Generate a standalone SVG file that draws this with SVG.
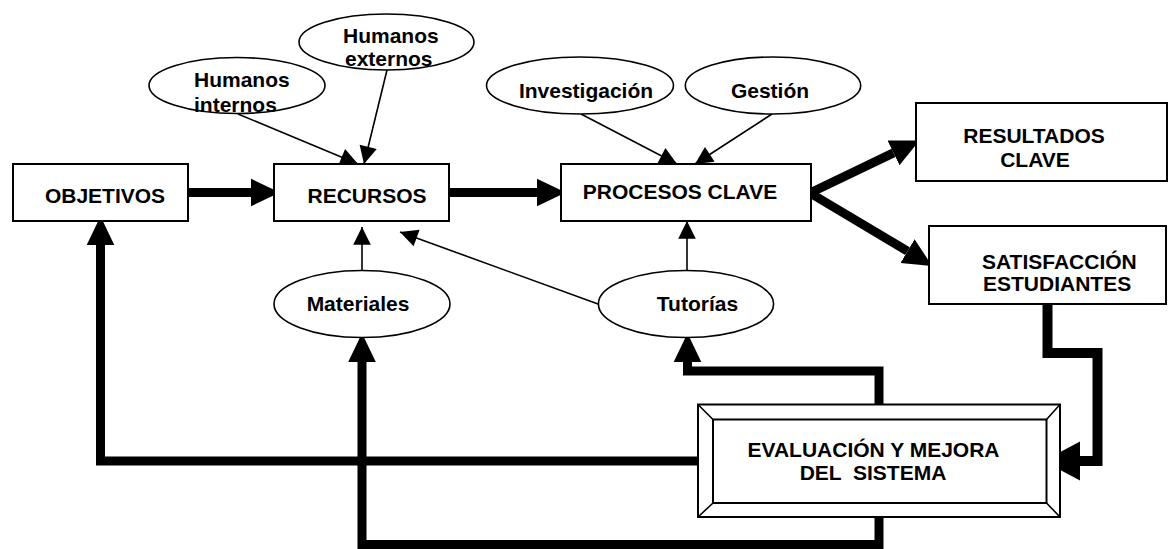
<svg xmlns="http://www.w3.org/2000/svg" width="1168" height="549" viewBox="0 0 1168 549">
<defs>
<style>
.box{fill:#fff;stroke:#000;stroke-width:2}
.ell{fill:#fff;stroke:#000;stroke-width:1.6}
.t{font-family:"Liberation Sans",Arial,sans-serif;font-weight:bold;font-size:21px;fill:#000}
.m{text-anchor:middle}
.thin{fill:none;stroke:#000;stroke-width:1.6}
.thick{fill:none;stroke:#000;stroke-width:9;stroke-linejoin:miter}
.fat{fill:none;stroke:#000;stroke-width:10;stroke-linejoin:miter}
</style>
<marker id="ah" markerUnits="userSpaceOnUse" markerWidth="20" markerHeight="20" viewBox="-16 -8 17 16" refX="0" refY="0" orient="auto">
<path d="M0,0 L-15,-7.5 L-15,7.5 z" fill="#000"/>
</marker>
<marker id="AH" markerUnits="userSpaceOnUse" markerWidth="30" markerHeight="30" viewBox="0 -12 25 24" refX="0" refY="0" orient="auto">
<path d="M0,-11.5 L24,0 L0,11.5 z" fill="#000"/>
</marker>
<marker id="AHB" markerUnits="userSpaceOnUse" markerWidth="40" markerHeight="40" viewBox="0 -18 34 36" refX="0" refY="0" orient="auto">
<path d="M0,-17.5 L33,0 L0,17.5 z" fill="#000"/>
</marker>
</defs>

<g id="connectors">
<!-- thin -->
<path class="thin" d="M238,114 L358,164" marker-end="url(#ah)"/>
<path class="thin" d="M387,70 L364,164" marker-end="url(#ah)"/>
<path class="thin" d="M581,114 L677,164" marker-end="url(#ah)"/>
<path class="thin" d="M772,114 L695,164" marker-end="url(#ah)"/>
<path class="thin" d="M362,271 L362,227" marker-end="url(#ah)"/>
<path class="thin" d="M687,271 L687,221" marker-end="url(#ah)"/>
<path class="thin" d="M598,304 L400,232" marker-end="url(#ah)"/>
<!-- thick -->
<path class="thick" d="M188,192.5 H251" marker-end="url(#AH)"/>
<path class="thick" d="M449,192.5 H537" marker-end="url(#AH)"/>
<path class="thick" d="M810,193 L893.5,152.9" marker-end="url(#AH)"/>
<path class="thick" d="M810,193 L907.5,251.2" marker-end="url(#AH)"/>
<path class="thick" d="M698,461 H100.5 V245" marker-end="url(#AH)"/>
<path class="thick" d="M879,517 V544.5 H362 V362" marker-end="url(#AH)"/>
<path class="thick" d="M879,404 V371 H687.5 V362" marker-end="url(#AH)"/>
<path class="fat" d="M1047.5,304 V353 H1097.5 V461 H1080" marker-end="url(#AHB)"/>
</g>

<g id="objetivos">
<rect class="box" x="13" y="164" width="175" height="57"/>
<text class="t m" x="105" y="203">OBJETIVOS</text>
</g>
<g id="recursos">
<rect class="box" x="274" y="164" width="175" height="57"/>
<text class="t m" x="367" y="203">RECURSOS</text>
</g>
<g id="procesos">
<rect class="box" x="561" y="164" width="250" height="57"/>
<text class="t m" x="680" y="199">PROCESOS CLAVE</text>
</g>
<g id="resultados">
<rect class="box" x="916" y="103" width="251" height="78"/>
<text class="t m" x="1034" y="143">RESULTADOS</text>
<text class="t m" x="1035" y="167">CLAVE</text>
</g>
<g id="satisfaccion">
<rect class="box" x="929" y="226" width="237" height="78"/>
<text class="t" x="982" y="269">SATISFACCIÓN</text>
<text class="t" x="983" y="291">ESTUDIANTES</text>
</g>
<g id="humanos-internos">
<ellipse class="ell" cx="237" cy="85.5" rx="88" ry="28"/>
<text class="t" x="194" y="87">Humanos</text>
<text class="t" x="194" y="112">internos</text>
</g>
<g id="humanos-externos">
<ellipse class="ell" cx="386.5" cy="42" rx="87.5" ry="28"/>
<text class="t" x="343" y="43">Humanos</text>
<text class="t" x="345" y="66">externos</text>
</g>
<g id="investigacion">
<ellipse class="ell" cx="580" cy="85.5" rx="93.5" ry="28.5"/>
<text class="t m" x="586" y="98">Investigación</text>
</g>
<g id="gestion">
<ellipse class="ell" cx="773" cy="85.5" rx="87.7" ry="28.5"/>
<text class="t m" x="770" y="98">Gestión</text>
</g>
<g id="materiales">
<ellipse class="ell" cx="362" cy="304" rx="88" ry="33.5"/>
<text class="t m" x="358" y="311">Materiales</text>
</g>
<g id="tutorias">
<ellipse class="ell" cx="686" cy="304" rx="87.6" ry="33.5"/>
<text class="t m" x="697.5" y="311">Tutorías</text>
</g>
<g id="evaluacion">
<rect class="box" x="698" y="404.5" width="362" height="112.5"/>
<rect class="box" x="713" y="419.5" width="333.5" height="83.5"/>
<path class="thin" d="M698,404.5 L713,419.5 M1060,404.5 L1046.5,419.5 M698,517 L713,503 M1060,517 L1046.5,503"/>
<text class="t m" x="873.5" y="457">EVALUACIÓN Y MEJORA</text>
<text class="t m" x="873" y="480" xml:space="preserve">DEL  SISTEMA</text>
</g>
</svg>
